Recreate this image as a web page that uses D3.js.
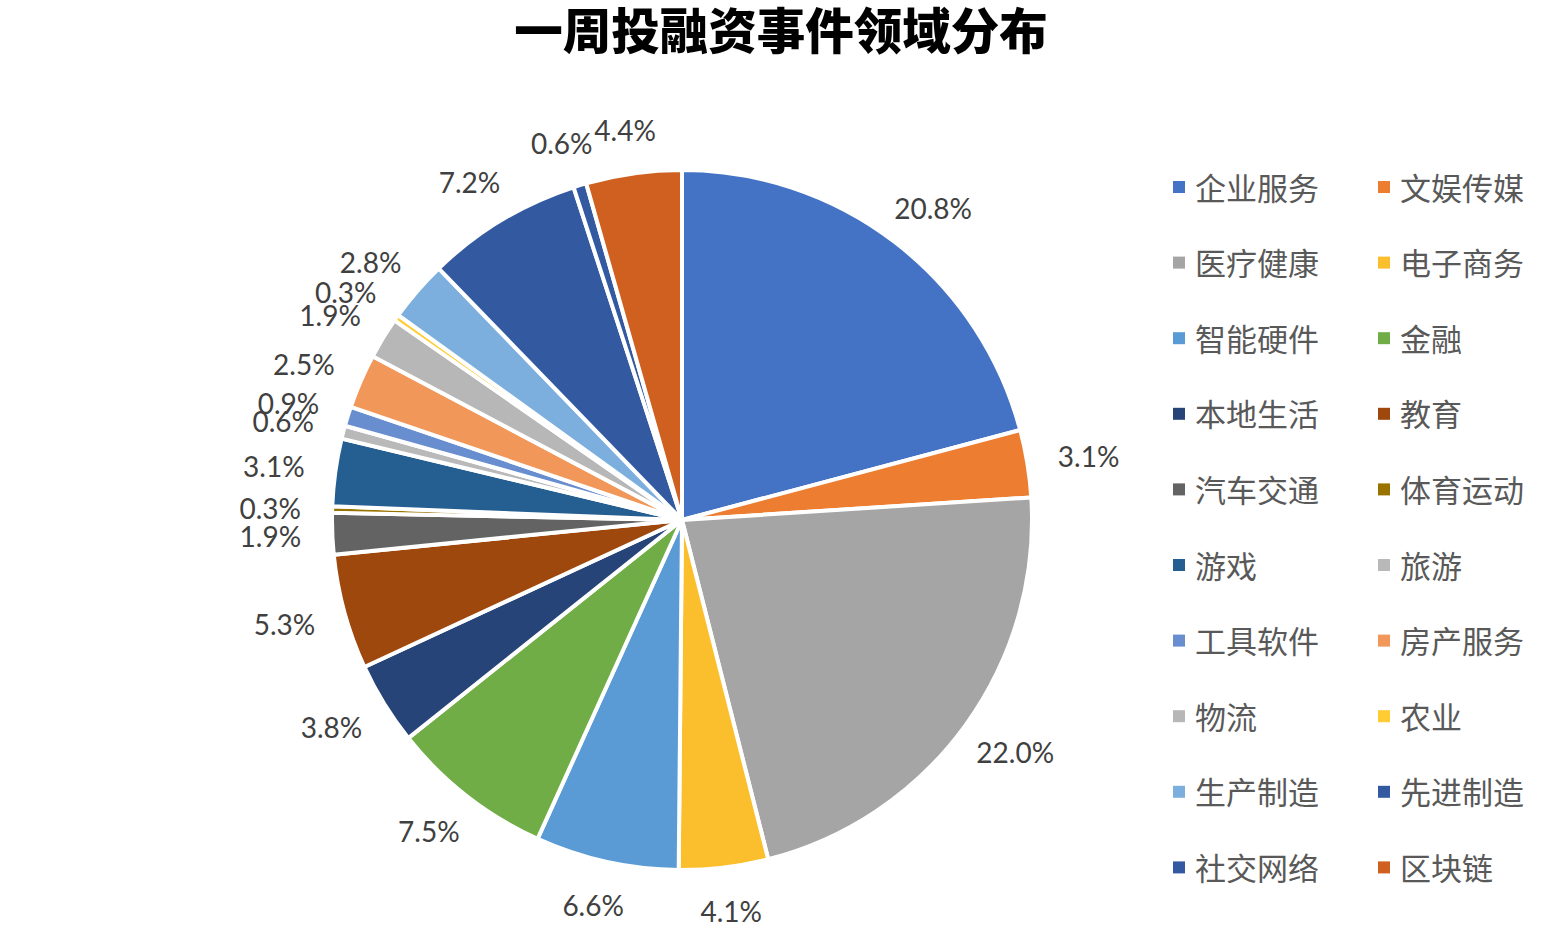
<!DOCTYPE html>
<html>
<head>
<meta charset="utf-8">
<script src="https://cdn.jsdelivr.net/npm/d3@7"></script>
<style>
  html, body { margin: 0; padding: 0; background: #fff; }
  svg { display: block; }
</style>
</head>
<body>
<svg id="chart" width="1560" height="934"></svg>
<script>
const categories = ["企业服务","文娱传媒","医疗健康","电子商务","智能硬件","金融","本地生活","教育","汽车交通","体育运动","游戏","旅游","工具软件","房产服务","物流","农业","生产制造","先进制造","社交网络","区块链"];
const percents = [20.8, 3.1, 22.0, 4.1, 6.6, 7.5, 3.8, 5.3, 1.9, 0.3, 3.1, 0.6, 0.9, 2.5, 1.9, 0.3, 2.8, 7.2, 0.6, 4.4];
const colors = ["#4472C4","#ED7D31","#A5A5A5","#FBBF2E","#5B9BD5","#70AD47","#264478","#9E480E","#636363","#997300","#255E91","#B9B9B9","#698ED0","#F1975A","#B7B7B7","#FFCD33","#7CAFDD","#335AA1","#335AA1","#D0601F"];
const title = "一周投融资事件领域分布";

const svg = d3.select("#chart");
const cx = 682, cy = 520, R = 350;

svg.append("text")
  .attr("x", 781).attr("y", 49)
  .attr("text-anchor", "middle")
  .attr("font-family", "'Noto Sans CJK SC', sans-serif")
  .attr("font-weight", 900)
  .attr("font-size", 48.5)
  .attr("fill", "#000")
  .text(title);

const data = categories.map((c, i) => ({name: c, value: percents[i], color: colors[i]}));
const pie = d3.pie().sort(null).value(d => d.value);
const arcs = pie(data);
const arc = d3.arc().innerRadius(0).outerRadius(R);

const g = svg.append("g").attr("transform", `translate(${cx},${cy})`);
g.selectAll("path.slice").data(arcs).enter().append("path")
  .attr("class", "slice")
  .attr("d", arc)
  .attr("fill", d => d.data.color)
  .attr("stroke", "#fff")
  .attr("stroke-width", 4)
  .attr("stroke-linejoin", "round");

// labels
const halfW = 32, halfH = 14, gap = 30;
g.selectAll("text.lbl").data(arcs).enter().append("text")
  .attr("class", "lbl")
  .attr("font-family", "Lato, 'Open Sans', sans-serif")
  .attr("font-size", 28)
  .attr("fill", "#404040")
  .attr("text-anchor", "middle")
  .attr("dominant-baseline", "central")
  .attr("x", d => {
    const a = (d.startAngle + d.endAngle) / 2;
    return Math.sin(a) * (R + gap + halfW);
  })
  .attr("y", d => {
    const a = (d.startAngle + d.endAngle) / 2;
    return -Math.cos(a) * (R + gap + halfH);
  })
  .text(d => d3.format(".1f")(d.value) + "%");

// legend
const colX = [1173, 1378];
const rowY0 = 186, rowStep = 75.6;
const leg = svg.append("g");
data.forEach((d, i) => {
  const col = i % 2, row = Math.floor(i / 2);
  const x = colX[col], y = rowY0 + row * rowStep;
  leg.append("rect")
    .attr("x", x).attr("y", y - 5)
    .attr("width", 12).attr("height", 12)
    .attr("fill", d.color);
  leg.append("text")
    .attr("x", x + 22).attr("y", y)
    .attr("dominant-baseline", "central")
    .attr("font-family", "'Noto Sans CJK SC', sans-serif")
    .attr("font-size", 31)
    .attr("fill", "#595959")
    .text(d.name);
});
</script>
</body>
</html>
